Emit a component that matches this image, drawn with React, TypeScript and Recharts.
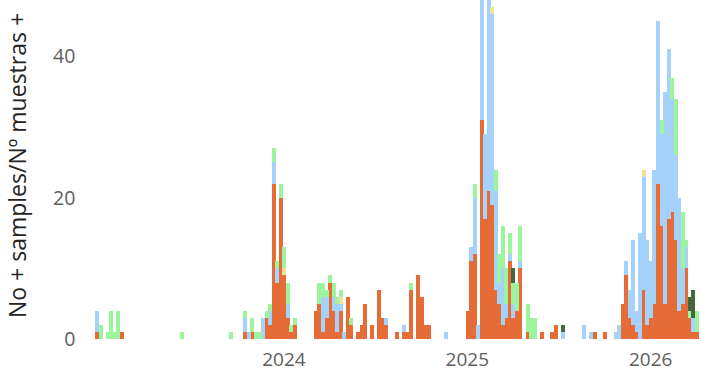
import { BarChart, Bar, XAxis, YAxis, Label } from 'recharts'

// weekly buckets, first week starts 2022-12-26 (171 weeks)
const firstWeek = '2022-12-26'
const weekCount = 171

const orange = [
  1, 0, 0, 0, 0, 0, 0, 1, 0, 0,
  0, 0, 0, 0, 0, 0, 0, 0, 0, 0,
  0, 0, 0, 0, 0, 0, 0, 0, 0, 0,
  0, 0, 0, 0, 0, 0, 0, 0, 0, 0,
  0, 0, 1, 0, 1, 0, 0, 0, 3, 2,
  22, 8, 20, 9, 3, 1, 2, 0, 0, 0,
  0, 0, 4, 5, 1, 3, 8, 4, 1, 4,
  0, 6, 2, 0, 1, 2, 5, 0, 2, 0,
  7, 3, 2, 0, 0, 1, 0, 1, 1, 7,
  0, 9, 6, 2, 2, 0, 0, 0, 0, 0,
  0, 0, 0, 0, 0, 4, 11, 12, 0, 31,
  17, 21, 19, 7, 5, 2, 3, 11, 3, 4,
  10, 0, 1, 0, 0, 0, 1, 0, 0, 1,
  2, 0, 0, 0, 0, 0, 0, 0, 0, 0,
  0, 1, 0, 0, 1, 0, 0, 0, 0, 5,
  9, 3, 2, 1, 0, 7, 2, 3, 5, 22,
  16, 5, 17, 18, 14, 4, 5, 10, 3, 1,
  1,
]

const blue = [
  3, 0, 0, 0, 0, 0, 0, 0, 0, 0,
  0, 0, 0, 0, 0, 0, 0, 0, 0, 0,
  0, 0, 0, 0, 0, 0, 0, 0, 0, 0,
  0, 0, 0, 0, 0, 0, 0, 0, 0, 0,
  0, 0, 2, 1, 0, 0, 0, 3, 0, 2,
  3, 2, 0, 0, 2, 0, 0, 0, 0, 0,
  0, 0, 0, 0, 5, 3, 0, 2, 4, 1,
  1, 0, 0, 0, 0, 0, 0, 0, 0, 0,
  0, 0, 1, 0, 0, 0, 0, 1, 0, 0,
  0, 0, 0, 0, 0, 0, 0, 0, 0, 1,
  0, 0, 0, 0, 0, 0, 2, 8, 2, 20,
  12, 27, 27, 14, 3, 8, 2, 1, 2, 0,
  1, 0, 0, 0, 0, 0, 0, 0, 0, 0,
  0, 0, 1, 0, 0, 0, 0, 0, 2, 0,
  1, 0, 0, 0, 0, 0, 0, 1, 2, 0,
  2, 4, 12, 3, 15, 16, 12, 8, 19, 23,
  13, 30, 24, 16, 12, 16, 5, 3, 0, 2,
  0,
]

const yellow = [
  0, 0, 0, 0, 0, 0, 0, 0, 0, 0,
  0, 0, 0, 0, 0, 0, 0, 0, 0, 0,
  0, 0, 0, 0, 0, 0, 0, 0, 0, 0,
  0, 0, 0, 0, 0, 0, 0, 0, 0, 0,
  0, 0, 0, 0, 0, 0, 0, 0, 0, 0,
  0, 0, 0, 1, 0, 0, 0, 0, 0, 0,
  0, 0, 0, 0, 0, 0, 0, 0, 0, 1,
  0, 0, 0, 0, 0, 0, 0, 0, 0, 0,
  0, 0, 0, 0, 0, 0, 0, 0, 0, 0,
  0, 0, 0, 0, 0, 0, 0, 0, 0, 0,
  0, 0, 0, 0, 0, 0, 0, 0, 0, 0,
  0, 0, 1, 0, 0, 0, 0, 0, 0, 0,
  0, 0, 0, 0, 0, 0, 0, 0, 0, 0,
  0, 0, 0, 0, 0, 0, 0, 0, 0, 0,
  0, 0, 0, 0, 0, 0, 0, 0, 0, 0,
  0, 0, 0, 0, 0, 1, 0, 0, 0, 0,
  0, 0, 0, 0, 0, 0, 0, 0, 0, 0,
  0,
]

const green = [
  0, 2, 0, 1, 4, 1, 4, 0, 0, 0,
  0, 0, 0, 0, 0, 0, 0, 0, 0, 0,
  0, 0, 0, 0, 1, 0, 0, 0, 0, 0,
  0, 0, 0, 0, 0, 0, 0, 0, 1, 0,
  0, 0, 1, 0, 2, 1, 1, 0, 1, 1,
  2, 1, 2, 3, 3, 1, 1, 0, 0, 0,
  0, 0, 0, 3, 2, 1, 1, 2, 1, 1,
  0, 0, 1, 0, 0, 0, 0, 0, 0, 0,
  0, 0, 0, 0, 0, 0, 0, 0, 0, 1,
  0, 0, 0, 0, 0, 0, 0, 0, 0, 0,
  0, 0, 0, 0, 0, 0, 0, 2, 0, 0,
  0, 0, 0, 3, 4, 6, 5, 3, 3, 4,
  5, 0, 4, 3, 3, 0, 0, 0, 0, 0,
  0, 0, 0, 0, 0, 0, 0, 0, 0, 0,
  0, 0, 0, 0, 0, 0, 0, 0, 0, 0,
  0, 0, 0, 0, 0, 0, 0, 0, 0, 0,
  2, 0, 0, 3, 8, 0, 8, 1, 1, 0,
  3,
]

const darkGreen = [
  0, 0, 0, 0, 0, 0, 0, 0, 0, 0,
  0, 0, 0, 0, 0, 0, 0, 0, 0, 0,
  0, 0, 0, 0, 0, 0, 0, 0, 0, 0,
  0, 0, 0, 0, 0, 0, 0, 0, 0, 0,
  0, 0, 0, 0, 0, 0, 0, 0, 0, 0,
  0, 0, 0, 0, 0, 0, 0, 0, 0, 0,
  0, 0, 0, 0, 0, 0, 0, 0, 0, 0,
  0, 0, 0, 0, 0, 0, 0, 0, 0, 0,
  0, 0, 0, 0, 0, 0, 0, 0, 0, 0,
  0, 0, 0, 0, 0, 0, 0, 0, 0, 0,
  0, 0, 0, 0, 0, 0, 0, 0, 0, 0,
  0, 0, 0, 0, 0, 0, 0, 0, 2, 0,
  0, 0, 0, 0, 0, 0, 0, 0, 0, 0,
  0, 0, 1, 0, 0, 0, 0, 0, 0, 0,
  0, 0, 0, 0, 0, 0, 0, 0, 0, 0,
  0, 0, 0, 0, 0, 0, 0, 0, 0, 0,
  0, 0, 0, 0, 0, 0, 0, 0, 2, 4,
  0,
]

const yearTicks = ['2024-01-01', '2024-12-30', '2025-12-29']
const yearLabels = ['2024', '2025', '2026']
const yTicks = [0, 20, 40]
const yTitle = 'No + samples/Nº muestras +'

const DAY = 86400000
const start = Date.parse(firstWeek + 'T00:00:00Z')
const data = Array.from({ length: weekCount }, (_, i) => ({
  week: new Date(start + i * 7 * DAY).toISOString().slice(0, 10),
  orange: orange[i],
  blue: blue[i],
  yellow: yellow[i],
  green: green[i],
  darkGreen: darkGreen[i],
}))

const font = '"Open Sans", "Noto Sans", sans-serif'

function YTitle(props: any) {
  const vb = props.viewBox || { x: 0, y: 0, height: 339 }
  const x = vb.x + 17
  const y = vb.y + vb.height / 2 - 4
  return (
    <text x={x} y={y} transform={`rotate(-90, ${x}, ${y})`} textAnchor="middle" dominantBaseline="central"
      fill="#252423" fontSize={23} fontFamily={font}>
      {yTitle}
    </text>
  )
}

export default function App() {
  return (
    <div style={{ position: 'absolute', left: 0, top: 0, width: 701, height: 372, background: '#fff' }}>
      <BarChart width={701} height={372} data={data} barCategoryGap={0} barGap={0}
        margin={{ top: 0, right: 2.7, bottom: 0, left: 0 }}>
        <XAxis dataKey="week" ticks={yearTicks} interval={0} axisLine={false} tickLine={false} height={33}
          tickMargin={8} tickFormatter={(v) => yearLabels[yearTicks.indexOf(v)] ?? ''}
          tick={{ fill: '#605E5C', fontSize: 19, fontFamily: font }} />
        <YAxis domain={[0, 48]} allowDataOverflow ticks={yTicks} width={95.3} axisLine={false} tickLine={false}
          tickMargin={14} tick={{ fill: '#605E5C', fontSize: 19.5, fontFamily: font }}>
          <Label content={<YTitle />} />
        </YAxis>
        <Bar dataKey="orange" stackId="s" fill="#E66C37" shapeRendering="crispEdges" isAnimationActive={false} />
        <Bar dataKey="blue" stackId="s" fill="#A5D2FB" shapeRendering="crispEdges" isAnimationActive={false} />
        <Bar dataKey="yellow" stackId="s" fill="#EFE09B" shapeRendering="crispEdges" isAnimationActive={false} />
        <Bar dataKey="green" stackId="s" fill="#9CF49C" shapeRendering="crispEdges" isAnimationActive={false} />
        <Bar dataKey="darkGreen" stackId="s" fill="#416A3C" shapeRendering="crispEdges" isAnimationActive={false} />
      </BarChart>
    </div>
  )
}
